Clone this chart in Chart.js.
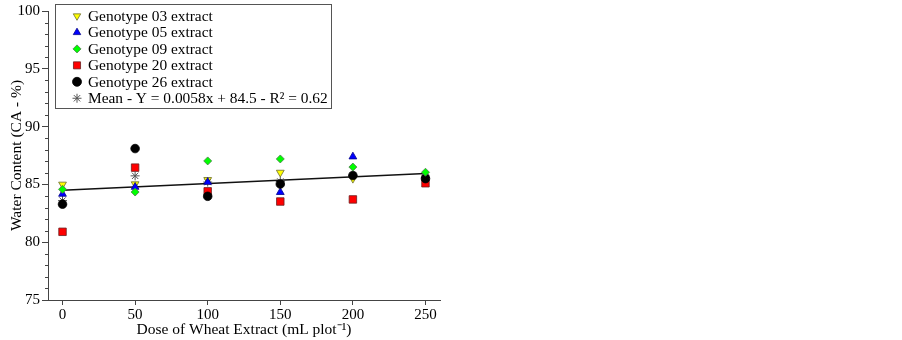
<!DOCTYPE html>
<html>
<head>
<meta charset="utf-8">
<script src="https://cdn.jsdelivr.net/npm/chart.js@4.4.0/dist/chart.umd.min.js"></script>
<style>
html,body{margin:0;padding:0;background:#fff;}
#wrap{width:902px;height:340px;}
</style>
</head>
<body>
<div id="wrap"><canvas id="c" width="902" height="340"></canvas></div>
<script>
// ---- data ----
const doses = [0, 50, 100, 150, 200, 250];
const geno03 = [85.0, 85.03, 85.4, 86.03, 85.5, 85.6];
const geno05 = [84.17, 84.77, 85.2, 84.32, 87.4, 85.8];
const geno09 = [84.57, 84.34, 87.03, 87.2, 86.5, 86.05];
const geno20 = [80.9, 86.45, 84.4, 83.52, 83.7, 85.1];
const geno26 = [83.29, 88.1, 83.97, 85.03, 85.77, 85.5];
const meanVals = [83.6, 85.74, 85.2, 85.25, 85.77, 85.6];
const fitX = [0, 250];
const fitY = [84.5, 85.95];
const xTicks = [0, 50, 100, 150, 200, 250];
const yTicks = [75, 80, 85, 90, 95, 100];
const labels = [
  "Genotype 03 extract",
  "Genotype 05 extract",
  "Genotype 09 extract",
  "Genotype 20 extract",
  "Genotype 26 extract",
  "Mean - Y = 0.0058x + 84.5 - R\u00B2 = 0.62"
];

const pts = (ys) => doses.map((d, i) => ({x: d, y: ys[i]}));
const FONT = "'Liberation Serif', 'Times New Roman', serif";

const legendPlugin = {
  id: 'boxLegend',
  afterDraw(chart) {
    const ctx = chart.ctx;
    ctx.save();
    ctx.fillStyle = '#fff';
    ctx.fillRect(55.5, 4.5, 276, 104);
    ctx.strokeStyle = '#555';
    ctx.lineWidth = 1;
    ctx.strokeRect(55.5, 4.5, 276, 104);
    const rows = [0,1,2,3,4,5].map(i => 16 + i * 16.45);
    ctx.font = '15.4px ' + FONT;
    ctx.textBaseline = 'middle';
    ctx.textAlign = 'left';
    chart.data.datasets.forEach((ds) => {
      if (ds.legendIndex === undefined) return;
      const y = rows[ds.legendIndex];
      ctx.fillStyle = ds.pointBackgroundColor;
      ctx.strokeStyle = ds.pointBorderColor;
      ctx.lineWidth = ds.pointBorderWidth;
      Chart.helpers.drawPoint(ctx, {
        pointStyle: ds.pointStyle,
        radius: ds.legendRadius,
        rotation: ds.pointRotation || 0,
        borderWidth: ds.pointBorderWidth
      }, 77, y);
      ctx.fillStyle = '#000';
      ctx.fillText(labels[ds.legendIndex], 88, y + 1);
    });
    ctx.restore();
  }
};

const minorTicks = {
  id: 'minorTicks',
  afterDraw(chart) {
    const ys = chart.scales.y;
    const ctx = chart.ctx;
    const x0 = chart.chartArea.left;
    ctx.save();
    ctx.strokeStyle = '#444';
    ctx.lineWidth = 1;
    for (let v = ys.min; v <= ys.max; v += 1) {
      if (v % 5 === 0) continue;
      const py = Math.round(ys.getPixelForValue(v)) + 0.5;
      ctx.beginPath();
      ctx.moveTo(x0 - 3, py);
      ctx.lineTo(x0, py);
      ctx.stroke();
    }
    ctx.restore();
  }
};

new Chart(document.getElementById('c'), {
  type: 'scatter',
  data: {
    datasets: [
      {
        type: 'line', data: fitX.map((x, i) => ({x, y: fitY[i]})),
        borderColor: '#111', borderWidth: 1.5, pointRadius: 0, fill: false, order: 10
      },
      {
        data: pts(geno20), pointStyle: 'rect', pointRadius: 5.3, legendRadius: 5,
        pointBackgroundColor: '#ff0000', pointBorderColor: '#6b2020', pointBorderWidth: 0.8,
        order: 6, legendIndex: 3
      },
      {
        data: pts(meanVals), pointStyle: 'star', pointRadius: 4.5, legendRadius: 4.5,
        pointBackgroundColor: '#555', pointBorderColor: '#555', pointBorderWidth: 1,
        order: 5, legendIndex: 5
      },
      {
        data: pts(geno03), pointStyle: 'triangle', pointRotation: 180, pointRadius: 4.5, legendRadius: 4.3,
        pointBackgroundColor: '#ffff00', pointBorderColor: '#6b6b30', pointBorderWidth: 0.8,
        order: 4, legendIndex: 0
      },
      {
        data: pts(geno05), pointStyle: 'triangle', pointRadius: 4.5, legendRadius: 4.3,
        pointBackgroundColor: '#0000ff', pointBorderColor: '#00008b', pointBorderWidth: 0.8,
        order: 3, legendIndex: 1
      },
      {
        data: pts(geno26), pointStyle: 'circle', pointRadius: 4.3, legendRadius: 4.5,
        pointBackgroundColor: '#000000', pointBorderColor: '#000000', pointBorderWidth: 0.8,
        order: 2, legendIndex: 4
      },
      {
        data: pts(geno09), pointStyle: 'rectRot', pointRadius: 4, legendRadius: 4,
        pointBackgroundColor: '#00ff00', pointBorderColor: '#4a7a4a', pointBorderWidth: 0.8,
        order: 1, legendIndex: 2
      }
    ]
  },
  options: {
    responsive: false,
    animation: false,
    events: [],
    layout: { padding: { top: 7, right: 462, left: 0, bottom: 0 } },
    plugins: { legend: { display: false }, tooltip: { enabled: false } },
    scales: {
      x: {
        type: 'linear', min: -10, max: 260,
        afterBuildTicks: (s) => { s.ticks = xTicks.map(v => ({value: v})); },
        afterFit: (s) => { s.height = 40; },
        grid: { drawOnChartArea: false, drawTicks: true, tickLength: 5, color: '#444' },
        border: { display: true, color: '#444', width: 1 },
        ticks: { color: '#000', font: { family: FONT, size: 15 }, padding: 1, maxRotation: 0 },
        title: { display: true, text: 'Dose of Wheat Extract (mL plot\u207B\u00B9)', color: '#000',
                 font: { family: FONT, size: 15.5 }, padding: { top: 0, bottom: 1 } }
      },
      y: {
        type: 'linear', min: 75, max: 100,
        afterBuildTicks: (s) => { s.ticks = yTicks.map(v => ({value: v})); },
        afterFit: (s) => { s.width = 48; },
        grid: { drawOnChartArea: false, drawTicks: true, tickLength: 6, color: '#444' },
        border: { display: true, color: '#444', width: 1 },
        ticks: { color: '#000', font: { family: FONT, size: 15 }, padding: 2 },
        title: { display: true, text: 'Water Content (CA - %)', color: '#000',
                 font: { family: FONT, size: 15.5 }, padding: { top: 8, bottom: 0 } }
      }
    }
  },
  plugins: [minorTicks, legendPlugin]
});
</script>
</body>
</html>
